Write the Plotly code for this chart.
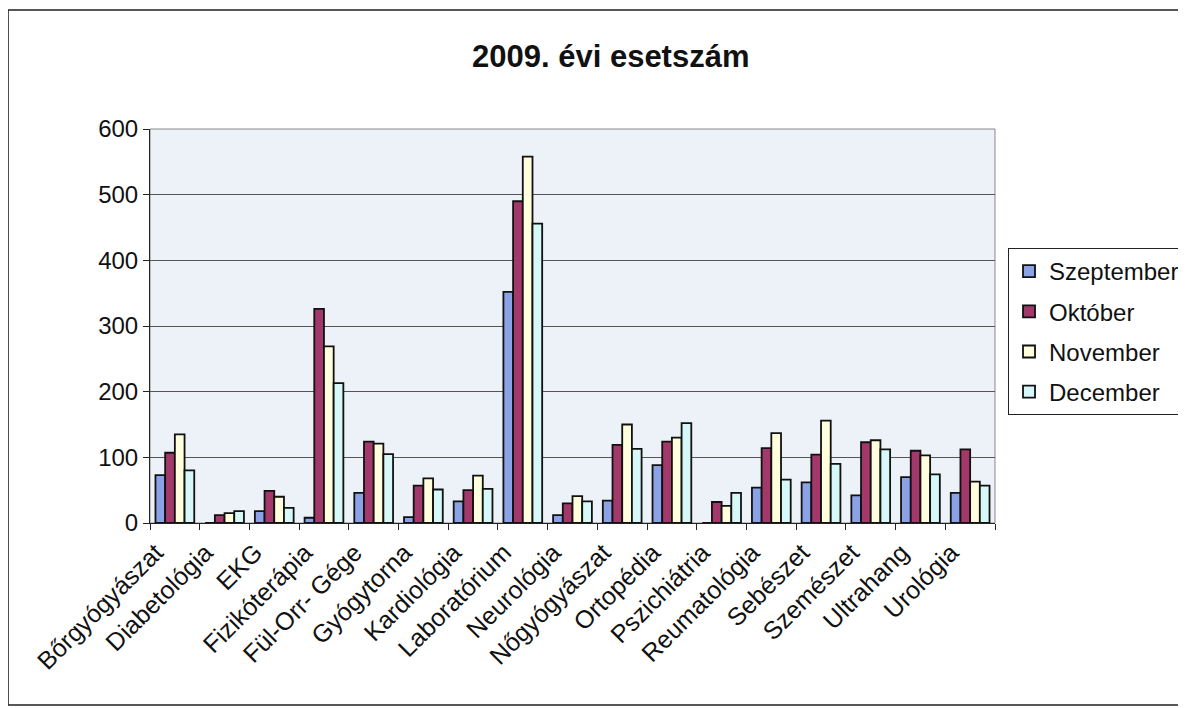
import plotly.graph_objects as go

categories = ["Bőrgyógyászat", "Diabetológia", "EKG", "Fizikóterápia", "Fül-Orr- Gége",
              "Gyógytorna", "Kardiológia", "Laboratórium", "Neurológia", "Nőgyógyászat",
              "Ortopédia", "Pszichiátria", "Reumatológia", "Sebészet", "Szemészet",
              "Ultrahang", "Urológia"]
szeptember = [73, 0, 18, 8, 46, 9, 33, 352, 12, 34, 88, 0, 54, 62, 42, 70, 46]
oktober = [107, 12, 49, 326, 124, 57, 50, 490, 30, 119, 124, 32, 114, 104, 123, 110, 112]
november = [135, 15, 40, 269, 121, 68, 72, 558, 41, 150, 130, 26, 137, 156, 126, 103, 63]
december = [80, 18, 23, 213, 105, 51, 52, 456, 33, 113, 152, 46, 66, 90, 112, 74, 57]
series_names = ["Szeptember", "Október", "November", "December"]
colors = ["#8BA3E6", "#A3386A", "#FFFFDD", "#D6F8F8"]
y_ticks = [0, 100, 200, 300, 400, 500, 600]

font = "Arial, Liberation Sans, sans-serif"
fig = go.Figure()
for name, vals, col in zip(series_names, [szeptember, oktober, november, december], colors):
    fig.add_trace(go.Bar(name=name, x=categories, y=vals, marker_color=col,
                         marker_line_color="#111111", marker_line_width=1.8,
                         legendgroup=name))

fig.update_layout(
    width=1186, height=708,
    margin=dict(l=142, r=199, t=121, b=193, autoexpand=False),
    paper_bgcolor="white", plot_bgcolor="#EDF1F8",
    barmode="group", bargap=0.22, bargroupgap=0,
    font=dict(family=font, size=20, color="#111111"),
    showlegend=True,
    legend=dict(x=1.0154, y=0.698, xanchor="left", yanchor="top",
                bordercolor="#222222", borderwidth=1, bgcolor="white",
                font=dict(size=24, family=font), tracegroupgap=6,
                itemwidth=30),
    annotations=[dict(text="<b>2009. évi esetszám</b>", x=0.545, y=1.183, xref="paper", yref="paper",
                      showarrow=False, font=dict(size=31, family=font), xanchor="center", yanchor="middle")],
    shapes=[dict(type="rect", xref="paper", yref="paper", x0=-0.168, x1=1.25, y0=-0.462, y1=1.302,
                 line=dict(color="#222222", width=1.5), fillcolor="rgba(0,0,0,0)", layer="below"),
            dict(type="rect", xref="paper", yref="paper", x0=0, x1=1, y0=0, y1=1,
                 line=dict(color="#888888", width=1), fillcolor="rgba(0,0,0,0)", layer="below")],
)
fig.update_xaxes(tickangle=-45, showline=True, linecolor="#222222", linewidth=1,
                 ticks="outside", tickson="boundaries", ticklen=6, tickcolor="#222222",
                 tickfont=dict(size=25, family=font), showgrid=False, mirror=False,
                 ticklabelshift=-19, ticklabelstandoff=4, automargin=False)
fig.update_yaxes(range=[0, 600], tickvals=y_ticks, showline=True, linecolor="#222222", linewidth=1,
                 ticks="outside", ticklen=6, tickcolor="#222222", showgrid=True,
                 gridcolor="#555555", gridwidth=1, tickfont=dict(size=24, family=font),
                 zeroline=False, automargin=False)

fig.write_html("out.html")
